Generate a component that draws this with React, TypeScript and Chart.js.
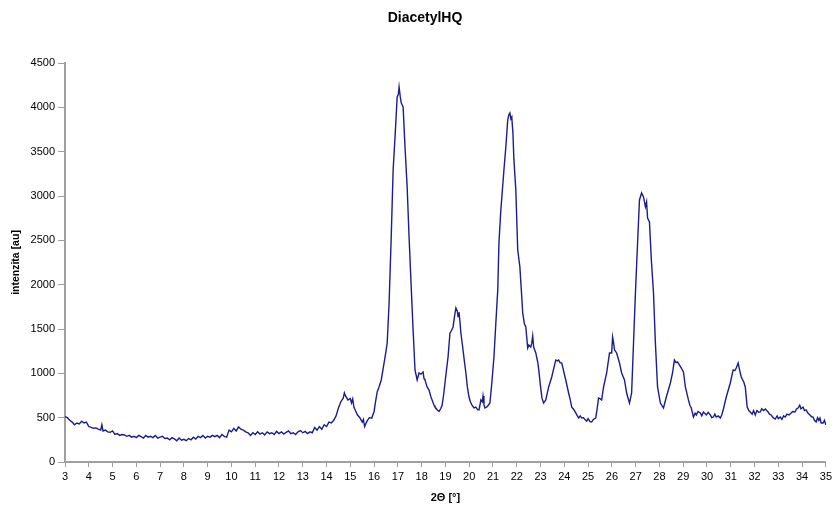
import React, { useEffect, useRef } from "react";
import { Chart, registerables } from "chart.js";

Chart.register(...registerables);

const chartTitle = "DiacetylHQ";
const xAxisTitle = "2\u0398 [\u00b0]";
const yAxisTitle = "intenzita [au]";

const xMin = 3;
const xMax = 35;
const yMin = 0;
const yMax = 4500;
const yStep = 500;

const twoTheta: number[] = [
  3.0, 3.1, 3.2, 3.3, 3.4, 3.5, 3.6, 3.7, 3.8, 3.9,
  4.0, 4.1, 4.2, 4.3, 4.4, 4.5, 4.55, 4.6, 4.7, 4.8, 4.9,
  5.0, 5.1, 5.2, 5.3, 5.4, 5.5, 5.6, 5.7, 5.8, 5.9,
  6.0, 6.1, 6.2, 6.3, 6.4, 6.5, 6.6, 6.7, 6.8, 6.9,
  7.0, 7.1, 7.2, 7.3, 7.4, 7.5, 7.6, 7.7, 7.8, 7.9,
  8.0, 8.1, 8.2, 8.3, 8.4, 8.5, 8.6, 8.7, 8.8, 8.9,
  9.0, 9.1, 9.2, 9.3, 9.4, 9.5, 9.6, 9.7, 9.8, 9.9,
  10.0, 10.1, 10.2, 10.3, 10.4, 10.5, 10.6, 10.7, 10.8, 10.9,
  11.0, 11.1, 11.2, 11.3, 11.4, 11.5, 11.6, 11.7, 11.8, 11.9,
  12.0, 12.1, 12.2, 12.3, 12.4, 12.5, 12.6, 12.7, 12.8, 12.9,
  13.0, 13.1, 13.2, 13.3, 13.4, 13.5, 13.6, 13.7, 13.8, 13.9,
  14.0, 14.1, 14.2, 14.3, 14.4, 14.5, 14.6, 14.7, 14.75, 14.8, 14.9,
  15.0, 15.05, 15.1, 15.15, 15.2, 15.3, 15.4, 15.5, 15.55, 15.6, 15.7, 15.8, 15.9,
  16.0, 16.05, 16.13, 16.2, 16.3, 16.42, 16.5, 16.55, 16.63, 16.72, 16.8, 16.88, 16.97,
  17.02, 17.05, 17.1, 17.14, 17.22, 17.3, 17.39, 17.47, 17.56, 17.64, 17.72, 17.81, 17.89, 17.97,
  18.06, 18.1, 18.14, 18.2, 18.23, 18.31, 18.39, 18.45, 18.52, 18.56, 18.65, 18.73, 18.8, 18.86, 18.92, 18.98,
  19.05, 19.11, 19.19, 19.25, 19.32, 19.38, 19.44, 19.5, 19.53, 19.57, 19.61, 19.65, 19.74, 19.8, 19.86, 19.92, 19.99,
  20.05, 20.11, 20.2, 20.28, 20.35, 20.41, 20.45, 20.49, 20.55, 20.58, 20.62, 20.66, 20.74, 20.8, 20.87, 20.95,
  21.04, 21.12, 21.2, 21.25, 21.33, 21.46, 21.54, 21.62, 21.67, 21.71, 21.75, 21.79, 21.84, 21.88, 21.96,
  22.04, 22.13, 22.21, 22.25, 22.32, 22.38, 22.46, 22.51, 22.59, 22.63, 22.67, 22.71, 22.8, 22.88, 22.92,
  23.0, 23.06, 23.13, 23.22, 23.34, 23.47, 23.55, 23.64, 23.7, 23.76, 23.82, 23.89,
  24.06, 24.18, 24.25, 24.31, 24.4, 24.48, 24.55, 24.6, 24.67, 24.73, 24.8, 24.87, 24.94,
  25.0, 25.08, 25.15, 25.22, 25.32, 25.38, 25.44, 25.5, 25.57, 25.65, 25.78, 25.9, 25.99,
  26.03, 26.07, 26.11, 26.2, 26.32, 26.41, 26.53, 26.62, 26.74, 26.83, 26.91, 26.99,
  27.08, 27.16, 27.25, 27.33, 27.41, 27.46, 27.5, 27.58, 27.66, 27.75, 27.83, 27.92,
  28.04, 28.17, 28.29, 28.46, 28.55, 28.63, 28.7, 28.76, 28.85, 28.92,
  29.01, 29.09, 29.22, 29.28, 29.34, 29.43, 29.5, 29.55, 29.62, 29.72, 29.78, 29.85, 29.97,
  30.05, 30.14, 30.2, 30.27, 30.33, 30.39, 30.47, 30.56, 30.62, 30.68, 30.81, 30.98,
  31.1, 31.17, 31.23, 31.31, 31.37, 31.44, 31.55, 31.61, 31.69, 31.76, 31.82, 31.9, 31.96,
  32.03, 32.1, 32.17, 32.24, 32.3, 32.38, 32.45, 32.51, 32.57, 32.63, 32.7, 32.78, 32.87, 32.95,
  33.0, 33.08, 33.15, 33.22, 33.29, 33.36, 33.45, 33.54, 33.6, 33.7, 33.77, 33.83, 33.9, 33.95,
  34.04, 34.1, 34.17, 34.25, 34.33, 34.4, 34.46, 34.52, 34.59, 34.65, 34.7, 34.75, 34.8, 34.88, 34.94,
  35.0,
];

const intensity: number[] = [
  510, 500, 470, 450, 420, 440, 430, 460, 440, 450,
  400, 390, 380, 385, 370, 360, 420, 350, 360, 340, 335,
  350, 310, 320, 300, 310, 305, 290, 300, 280, 290,
  275, 300, 285, 270, 300, 280, 290, 275, 300, 270,
  280, 290, 265, 270, 250, 275, 260, 240, 270, 245,
  255, 240, 265, 250, 280, 260, 290, 275, 300, 270,
  290, 280, 300, 285, 300, 275, 310, 290, 280, 360,
  340, 380, 350, 395, 370, 360, 340, 330, 300, 330,
  310, 340, 315, 330, 305, 340, 320, 330, 310, 345,
  320, 340, 315, 335, 350, 320, 330, 310, 340, 355,
  330, 345, 320, 340, 330, 390, 360, 400, 370, 420,
  400, 450, 440, 470, 520, 610, 680, 720, 780, 745, 700,
  715, 665, 710, 620, 590, 530, 500, 450, 480, 400, 460, 500, 495,
  570, 665, 790, 840, 925, 1117, 1250, 1342, 1793, 2540, 3294, 3666, 4117,
  4150, 4230, 4120, 4050, 4005, 3553, 3100, 2540, 1975, 1490, 1038, 925, 1004, 990,
  1015, 940, 925, 870, 846, 812, 733, 690, 640, 620, 590, 570, 600, 640, 750, 891,
  1050, 1184, 1455, 1480, 1523, 1640, 1737, 1700, 1640, 1690, 1580, 1455, 1263, 1130, 1004, 850, 733,
  680, 643, 610, 620, 590, 587, 640, 700, 680, 744, 650, 609, 620, 640, 665, 891,
  1184, 1568, 1940, 2470, 2843, 3294, 3553, 3858, 3920, 3937, 3870, 3890, 3700, 3407, 3068,
  2391, 2200, 1861, 1680, 1560, 1523, 1286, 1320, 1297, 1340, 1421, 1297, 1230, 1128, 1050,
  850, 720, 665, 700, 846, 959, 1050, 1150, 1140, 1150, 1120, 1117,
  925, 778, 700, 620, 590, 553, 520, 496, 520, 496, 500, 480, 462,
  490, 455, 451, 480, 496, 600, 722, 715, 700, 846, 1004, 1230, 1230,
  1410, 1350, 1263, 1230, 1117, 1004, 925, 778, 665, 778, 1342, 1906,
  2470, 2955, 3034, 2989, 2876, 2933, 2752, 2707, 2278, 1906, 1342, 846,
  665, 609, 733, 891, 1004, 1150, 1120, 1128, 1090, 1060,
  1015, 846, 700, 640, 609, 507, 550, 530, 570, 553, 520, 564, 530,
  560, 530, 500, 507, 540, 507, 520, 496, 530, 587, 733, 891,
  1038, 1030, 1060, 1117, 1040, 959, 900, 846, 620, 580, 564, 540, 580,
  530, 580, 560, 564, 600, 580, 598, 580, 564, 540, 530, 500, 485, 520,
  490, 507, 480, 520, 507, 540, 530, 553, 570, 564, 600, 609, 640, 600,
  620, 580, 587, 550, 530, 510, 507, 470, 451, 500, 470, 496, 440, 440, 470,
  417,
];

const FONT = "'Liberation Sans', Arial, sans-serif";
const AXIS_GRAY = "#a0a0a0";

const titlePlugin = {
  id: "fixedTitle",
  afterDraw(chart: any) {
    const ctx = chart.ctx;
    ctx.save();
    ctx.font = `bold 14px ${FONT}`;
    ctx.fillStyle = "#000";
    ctx.textAlign = "center";
    ctx.textBaseline = "middle";
    ctx.fillText(chartTitle, 425, 18);
    ctx.restore();
  },
};

export default function App() {
  const canvasRef = useRef<HTMLCanvasElement | null>(null);

  useEffect(() => {
    if (!canvasRef.current) return;
    const points = twoTheta.map((x, i) => ({ x, y: intensity[i] }));
    const chart = new Chart(canvasRef.current, {
      type: "line",
      data: {
        datasets: [
          {
            label: chartTitle,
            data: points,
            borderColor: "#1c1c8c",
            borderWidth: 1.4,
            pointRadius: 0,
            tension: 0,
            fill: false,
          },
        ],
      },
      options: {
        animation: false,
        responsive: true,
        maintainAspectRatio: false,
        layout: { padding: { top: 63, left: 0, right: 7, bottom: 0 } },
        plugins: {
          legend: { display: false },
          title: { display: false },
          tooltip: { enabled: false },
        },
        scales: {
          x: {
            type: "linear",
            min: xMin,
            max: xMax,
            afterFit: (s: any) => {
              s.height = 44;
            },
            ticks: {
              stepSize: 1,
              color: "#000",
              font: { family: FONT, size: 11 },
              padding: 3,
              maxRotation: 0,
              autoSkip: false,
              callback: (v: any) => String(v),
            },
            grid: {
              display: true,
              drawOnChartArea: false,
              drawTicks: true,
              tickLength: 5,
              color: AXIS_GRAY,
              lineWidth: 1,
            },
            border: { display: true, color: AXIS_GRAY, width: 2 },
            title: {
              display: true,
              text: xAxisTitle,
              color: "#000",
              font: { family: FONT, size: 11, weight: "bold" },
              padding: { top: 0, bottom: 1 },
            },
          },
          y: {
            type: "linear",
            min: yMin,
            max: yMax,
            afterFit: (s: any) => {
              s.width = 65;
            },
            ticks: {
              stepSize: yStep,
              color: "#000",
              font: { family: FONT, size: 11 },
              padding: 3,
              callback: (v: any) => String(v),
            },
            grid: {
              display: true,
              drawOnChartArea: false,
              drawTicks: true,
              tickLength: 7,
              color: AXIS_GRAY,
              lineWidth: 1,
            },
            border: { display: true, color: AXIS_GRAY, width: 2 },
            title: {
              display: true,
              text: yAxisTitle,
              color: "#000",
              font: { family: FONT, size: 10.5, weight: "bold" },
              padding: { top: 10, bottom: 0 },
            },
          },
        },
      },
      plugins: [titlePlugin],
    });
    return () => chart.destroy();
  }, []);

  return (
    <div style={{ position: "fixed", left: 0, top: 0, width: 835, height: 506, background: "#fff" }}>
      <canvas ref={canvasRef} />
    </div>
  );
}
